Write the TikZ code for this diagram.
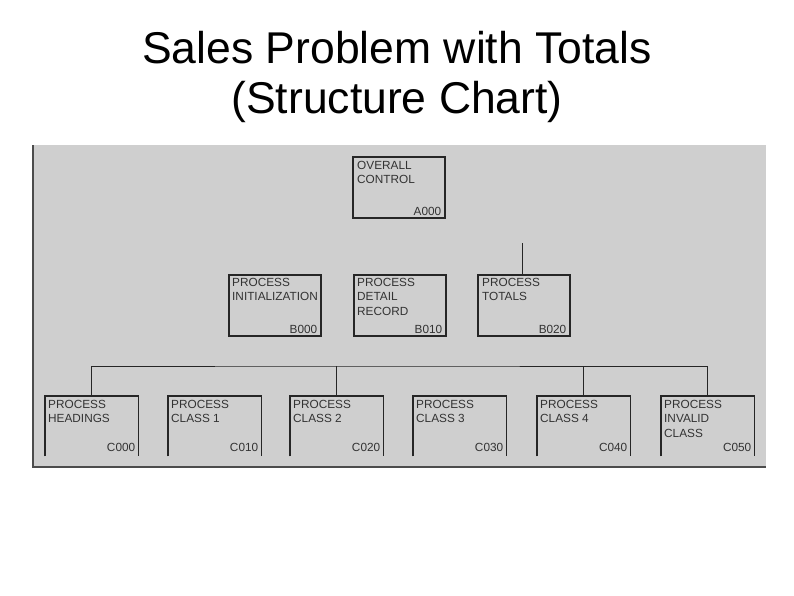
\documentclass[tikz,border=0pt]{standalone}
\usepackage{fontspec}
\setmainfont{Liberation Sans}
\begin{document}
\begin{tikzpicture}[x=1pt,y=-1pt,
  box/.style={draw=black!85,line width=1.5pt,anchor=north west,inner sep=0pt,minimum width=92pt,minimum height=61pt},
  obox/.style={anchor=north west,inner sep=0pt,minimum width=93pt,minimum height=60pt},
  lbl/.style={anchor=north west,align=left,inner sep=0pt,font=\fontsize{11.8}{14.5}\selectfont,text=black!80},
  code/.style={anchor=south east,inner sep=0pt,font=\fontsize{11.8}{12}\selectfont,text=black!80},
  conn/.style={draw=black!85,line width=0.9pt}]
\useasboundingbox (0,0) rectangle (794,595);
\node[font=\fontsize{44.5}{50}\selectfont,align=center] (title) at (397,77) {Sales Problem with Totals\\(Structure Chart)};
\fill[black!19] (33,145) rectangle (766,467);
\draw[black!70,line width=1.2pt] (33,145) -- (33,467) -- (766,467);
% top
\node[box] (A) at (352,156) {};
\node[lbl] at ([xshift=5pt,yshift=-5pt]A.north west) {OVERALL\\CONTROL};
\node[code] at ([xshift=-4pt,yshift=3pt]A.south east) {A000};
% middle
\node[box] (B0) at (228,274) {};
\node[lbl] at ([xshift=4pt,yshift=-4pt]B0.north west) {PROCESS\\INITIALIZATION};
\node[code] at ([xshift=-4pt,yshift=3pt]B0.south east) {B000};
\node[box] (B1) at (353,274) {};
\node[lbl] at ([xshift=4pt,yshift=-4pt]B1.north west) {PROCESS\\DETAIL\\RECORD};
\node[code] at ([xshift=-4pt,yshift=3pt]B1.south east) {B010};
\node[box] (B2) at (477,274) {};
\node[lbl] at ([xshift=5pt,yshift=-4pt]B2.north west) {PROCESS\\TOTALS};
\node[code] at ([xshift=-4pt,yshift=3pt]B2.south east) {B020};
\coordinate (t2) at (522,243);
\draw[conn] (t2) -- (t2 |- B2.north);
% bottom row
\foreach \n/\x/\t/\c in {C0/45/{PROCESS\\HEADINGS}/C000, C1/168/{PROCESS\\CLASS 1}/C010, C2/290/{PROCESS\\CLASS 2}/C020, C3/413/{PROCESS\\CLASS 3}/C030, C4/537/{PROCESS\\CLASS 4}/C040, C5/661/{PROCESS\\INVALID\\CLASS}/C050}{
  \node[obox] (\n) at (\x,396) {};
  \draw[draw=black!85,line width=1.5pt] (\n.south west) -- (\n.north west) -- (\n.north east) -- (\n.south east);
  \node[lbl] at ([xshift=3pt,yshift=-4pt]\n.north west) {\t};
  \node[code] at ([xshift=-3pt,yshift=5pt]\n.south east) {\c};
}
\coordinate (h) at (336,366);
\draw[conn] (C0.north) |- (h) -| (C5.north);
\draw[conn] (C2.north) -- (C2.north |- h);
\draw[conn] (C4.north) -- (C4.north |- h);
\end{tikzpicture}
\end{document}
